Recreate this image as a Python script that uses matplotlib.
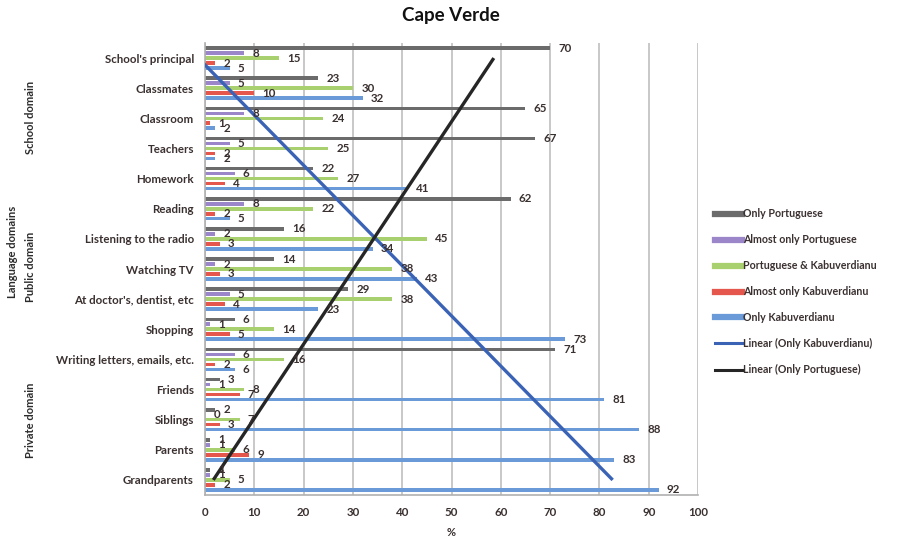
import numpy as np
import matplotlib
matplotlib.use("Agg")
import matplotlib.pyplot as plt
from matplotlib.lines import Line2D

plt.rcParams['font.family'] = ['Lato', 'DejaVu Sans']

# categories, top to bottom as in the picture
categories = ["School's principal", "Classmates", "Classroom", "Teachers", "Homework",
              "Reading", "Listening to the radio", "Watching TV", "At doctor's, dentist, etc",
              "Shopping", "Writing letters, emails, etc.", "Friends", "Siblings", "Parents",
              "Grandparents"]

only_port = [70, 23, 65, 67, 22, 62, 16, 14, 29, 6, 71, 3, 2, 1, 1]
almost_port = [8, 5, 8, 5, 6, 8, 2, 2, 5, 1, 6, 1, 0, 1, 1]
port_kab = [15, 30, 24, 25, 27, 22, 45, 38, 38, 14, 16, 8, 7, 6, 5]
almost_kab = [2, 10, 1, 2, 4, 2, 3, 3, 4, 5, 2, 7, 3, 9, 2]
only_kab = [5, 32, 2, 2, 41, 5, 34, 43, 23, 73, 6, 81, 88, 83, 92]

series_names = ["Only Portuguese", "Almost only Portuguese", "Portuguese & Kabuverdianu",
                "Almost only Kabuverdianu", "Only Kabuverdianu"]
series_vals = [only_port, almost_port, port_kab, almost_kab, only_kab]
colors = ["#6b6b6b", "#9a86c9", "#a9d06e", "#e5574c", "#6a9bd8"]

fig = plt.figure(figsize=(8.99, 5.43), dpi=100)
ax = fig.add_axes([205 / 899, 48 / 543, 493 / 899, 452 / 543])

n = len(categories)
# excel puts the first category at the bottom, so reverse
pos = np.arange(1, n + 1)[::-1]
slot = 0.165
bar_h = 0.12
lab_col = "#3b3030"

for i, (name, vals, c) in enumerate(zip(series_names, series_vals, colors)):
    y = pos + (2 - i) * slot
    ax.barh(y, vals, height=bar_h, color=c, zorder=2)
    for yy, v in zip(y, vals):
        ax.annotate(str(v), (v, yy), xytext=(6, 0), textcoords="offset points",
                    ha="left", va="center", fontsize=8.3, color=lab_col,
                    fontweight="bold", zorder=4)

# linear trendlines (excel style, fitted on category index from bottom)
xi = np.arange(1, n + 1)
for vals, c in [(only_kab, "#3b63b5"), (only_port, "#262626")]:
    v = np.array(vals)[::-1]
    k, b = np.polyfit(xi, v, 1)
    ax.plot(k * xi + b, xi, color=c, lw=2.4, zorder=3, solid_capstyle="butt")

ax.set_xlim(0, 100)
ax.set_ylim(0.5, n + 0.5)
ax.set_xticks(np.arange(0, 101, 10))
ax.set_yticks(pos)
ax.set_yticklabels(categories)
ax.xaxis.grid(True, color="#c4c4c4", lw=1.3, zorder=0)
ax.tick_params(axis="both", length=0, labelsize=8.3, labelcolor=lab_col)
ax.tick_params(axis="y", pad=8)
ax.tick_params(axis="x", pad=9)
for t in ax.get_yticklabels() + ax.get_xticklabels():
    t.set_fontweight("bold")
for s in ["top", "right"]:
    ax.spines[s].set_visible(False)
for s in ["left", "bottom"]:
    ax.spines[s].set_color("#b0b0b0")
    ax.spines[s].set_linewidth(1.2)

fig.text(451 / 899, 1 - 16 / 543, "Cape Verde", ha="center", va="center",
         fontsize=13.5, fontweight="bold", color="#111111")
fig.text(451 / 899, 1 - 532 / 543, "%", ha="center", va="center",
         fontsize=8, fontweight="bold", color=lab_col)

side = dict(rotation=90, ha="center", va="center", fontsize=8,
            fontweight="bold", color="#2b2b2b")
fig.text(13 / 899, 1 - 252 / 543, "Language domains", **side)
fig.text(30 / 899, 1 - 117 / 543, "School domain", **side)
fig.text(30 / 899, 1 - 267 / 543, "Public domain", **side)
fig.text(30 / 899, 1 - 420 / 543, "Private domain", **side)

handles = [Line2D([], [], color=c, lw=4.5) for c in colors]
handles += [Line2D([], [], color="#3b63b5", lw=2.2), Line2D([], [], color="#262626", lw=2.2)]
labels = series_names + ["Linear (Only Kabuverdianu)", "Linear (Only Portuguese)"]
leg = fig.legend(handles, labels, loc="upper left", bbox_to_anchor=(710 / 899, 1 - 203 / 543),
                 frameon=False, fontsize=7.7, handlelength=2.5, handletextpad=0.1,
                 labelspacing=1.4, borderpad=0)
for t in leg.get_texts():
    t.set_color(lab_col)
    t.set_fontweight("bold")

fig.savefig("out.png", dpi=100)
